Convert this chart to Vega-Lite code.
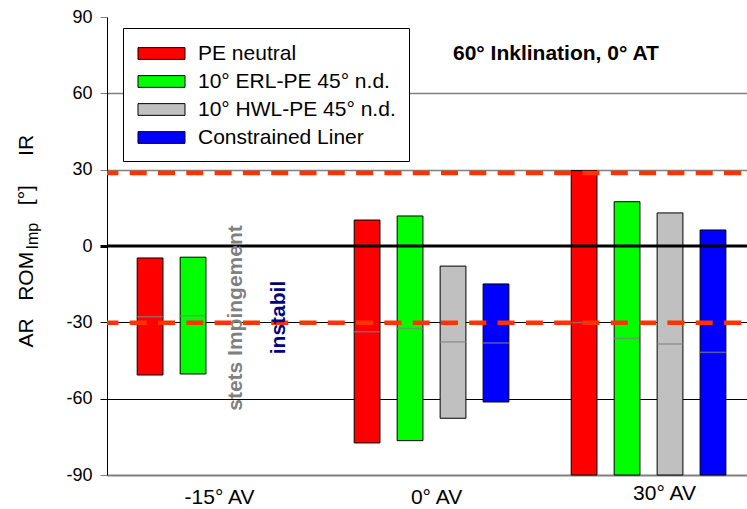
{
  "$schema": "https://vega.github.io/schema/vega-lite/v6.json",
  "width": 640,
  "height": 458,
  "autosize": {"type": "none"},
  "padding": {"left": 107, "top": 17, "right": 0, "bottom": 34},
  "background": "white",
  "config": {"font": "Liberation Sans", "view": {"stroke": null}},
  "title": {
    "text": "60° Inklination, 0° AT",
    "anchor": "start",
    "frame": "group",
    "font": "Liberation Sans",
    "fontSize": 21,
    "fontWeight": "bold",
    "color": "black",
    "offset": 0,
    "baseline": "alphabetic",
    "dx": 346,
    "dy": 73
  },
  "datasets": {
    "bars": [
      {"grp": "-15° AV", "series": "PE neutral", "lo": -50.7, "hi": -4.7, "mean": -27.8},
      {"grp": "-15° AV", "series": "10° ERL-PE 45° n.d.", "lo": -50.3, "hi": -4.4, "mean": -27.4},
      {"grp": "0° AV", "series": "PE neutral", "lo": -77.4, "hi": 10.2, "mean": -33.7},
      {"grp": "0° AV", "series": "10° ERL-PE 45° n.d.", "lo": -76.5, "hi": 11.8, "mean": -32.4},
      {"grp": "0° AV", "series": "10° HWL-PE 45° n.d.", "lo": -67.7, "hi": -7.9, "mean": -37.7},
      {"grp": "0° AV", "series": "Constrained Liner", "lo": -61.3, "hi": -14.9, "mean": -38.1},
      {"grp": "30° AV", "series": "PE neutral", "lo": -90, "hi": 29.6, "mean": -30.1},
      {"grp": "30° AV", "series": "10° ERL-PE 45° n.d.", "lo": -90, "hi": 17.4, "mean": -36.3},
      {"grp": "30° AV", "series": "10° HWL-PE 45° n.d.", "lo": -90, "hi": 13.0, "mean": -38.5},
      {"grp": "30° AV", "series": "Constrained Liner", "lo": -90, "hi": 6.3, "mean": -41.8}
    ],
    "refs": [{"v": 28.7}, {"v": -30.2}],
    "zero": [{"v": 0}],
    "note1": [{"grp": "-15° AV", "series": "10° HWL-PE 45° n.d.", "v": -28.3, "label": "stets Impingement"}],
    "note2": [{"grp": "-15° AV", "series": "Constrained Liner", "v": -28.1, "label": "instabil"}]
  },
  "layer": [
    {
      "data": {"name": "bars"},
      "mark": {"type": "bar", "stroke": "black", "strokeWidth": 1},
      "encoding": {
        "x": {
          "field": "grp", "type": "nominal", "title": null,
          "scale": {"domain": ["-15° AV", "0° AV", "30° AV"], "paddingInner": 0.2, "paddingOuter": 0.0747, "align": 0.64},
          "axis": {
            "domainColor": "#808080", "domainWidth": 2, "ticks": false, "tickSize": 0,
            "labelFontSize": 21, "labelColor": "black", "labelAngle": 0, "labelBaseline": "top",
            "labelPadding": {"condition": {"test": "datum.value === '30° AV'", "value": 7}, "value": 11},
            "labelOffset": {"condition": {"test": "datum.value === '30° AV'", "value": 16}, "value": 5},
            "grid": false
          }
        },
        "xOffset": {
          "field": "series", "type": "nominal",
          "scale": {"domain": ["PE neutral", "10° ERL-PE 45° n.d.", "10° HWL-PE 45° n.d.", "Constrained Liner"], "paddingInner": 0.4, "paddingOuter": 0.22}
        },
        "y": {
          "field": "lo", "type": "quantitative",
          "scale": {"domain": [-90, 90], "nice": false, "zero": false},
          "axis": {
            "values": [-90, -60, -30, 0, 30, 60, 90],
            "labelExpr": "datum.value + ''",
            "title": "AR\u00a0\u00a0\u00a0ROM\u00a0\u00a0\u00a0\u00a0\u00a0\u00a0\u00a0\u00a0[°]\u00a0\u00a0\u00a0\u00a0\u00a0IR",
            "titleFont": "Liberation Sans", "titleFontSize": 21, "titleFontWeight": "normal", "titleColor": "black",
            "titleAngle": 270, "titleAlign": "left", "titleBaseline": "alphabetic", "titleX": -75, "titleY": 330,
            "labelFontSize": 18, "labelColor": "black", "labelPadding": 8,
            "tickSize": 7,
            "tickColor": {"condition": {"test": "datum.value > 0 || datum.value === -90", "value": "#808080"}, "value": "black"},
            "tickWidth": {"condition": {"test": "datum.value === 0", "value": 3}, "value": 1},
            "domainColor": "black", "domainWidth": 1,
            "grid": true,
            "gridColor": {"condition": {"test": "datum.value > 0", "value": "#808080"}, "value": "black"},
            "gridWidth": {"condition": {"test": "datum.value > 0", "value": 1.5}, "value": 1},
            "gridOpacity": {"condition": {"test": "datum.value === 90 || datum.value === -90 || datum.value === 0", "value": 0}, "value": 1}
          }
        },
        "y2": {"field": "hi"},
        "color": {
          "field": "series", "type": "nominal",
          "scale": {"domain": ["PE neutral", "10° ERL-PE 45° n.d.", "10° HWL-PE 45° n.d.", "Constrained Liner"], "range": ["#FF0000", "#00FF00", "#C0C0C0", "#0000FF"]},
          "legend": {
            "title": null, "orient": "none", "legendX": 16, "legendY": 11,
            "fillColor": "white", "strokeColor": "black", "padding": 13,
            "symbolType": "M-2,-0.5H2V0.5H-2Z", "symbolSize": 552,
            "symbolStrokeColor": "black", "symbolStrokeWidth": 1, "symbolOpacity": 1,
            "symbolOffset": 13, "labelOffset": 24,
            "labelFont": "Liberation Sans", "labelFontSize": 21, "labelColor": "black",
            "rowPadding": 5, "labelLimit": 400
          }
        }
      }
    },
    {
      "data": {"name": "bars"},
      "mark": {"type": "tick", "color": "#808080", "thickness": 1.5, "size": 26, "orient": "horizontal"},
      "encoding": {
        "x": {"field": "grp", "type": "nominal"},
        "xOffset": {"field": "series", "type": "nominal"},
        "y": {
          "field": "mean", "type": "quantitative",
          "axis": {
            "orient": "left", "domain": false, "ticks": false, "labels": false, "grid": false,
            "title": "Imp", "titleFont": "Liberation Sans", "titleFontSize": 16, "titleFontWeight": "normal", "titleColor": "black",
            "titleAngle": 270, "titleAlign": "left", "titleBaseline": "alphabetic", "titleX": -70, "titleY": 232
          }
        }
      }
    },
    {
      "data": {"name": "zero"},
      "mark": {"type": "rule", "color": "black", "strokeWidth": 3},
      "encoding": {"y": {"field": "v", "type": "quantitative", "axis": null}}
    },
    {
      "data": {"name": "refs"},
      "mark": {"type": "rule", "color": "#FF3300", "strokeWidth": 4.5, "strokeDash": [17, 11.3], "strokeDashOffset": 22.3},
      "encoding": {"y": {"field": "v", "type": "quantitative", "axis": null}}
    },
    {
      "data": {"name": "note1"},
      "mark": {"type": "text", "angle": 270, "font": "Liberation Sans", "fontSize": 21, "fontWeight": "bold", "color": "#808080", "align": "center", "baseline": "middle"},
      "encoding": {
        "x": {"field": "grp", "type": "nominal"},
        "xOffset": {"field": "series", "type": "nominal"},
        "y": {"field": "v", "type": "quantitative", "axis": null},
        "text": {"field": "label"}
      }
    },
    {
      "data": {"name": "note2"},
      "mark": {"type": "text", "angle": 270, "font": "Liberation Sans", "fontSize": 21, "fontWeight": "bold", "color": "#000080", "align": "center", "baseline": "middle"},
      "encoding": {
        "x": {"field": "grp", "type": "nominal"},
        "xOffset": {"field": "series", "type": "nominal"},
        "y": {"field": "v", "type": "quantitative", "axis": null},
        "text": {"field": "label"}
      }
    }
  ],
  "resolve": {"axis": {"y": "independent"}}
}
